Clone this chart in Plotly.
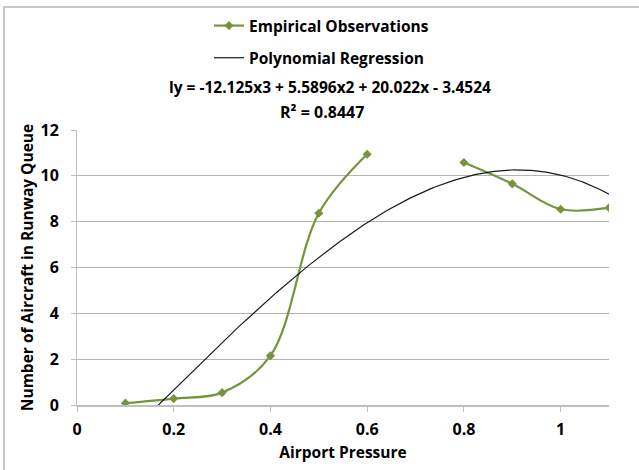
import numpy as np
import plotly.graph_objects as go

# Data
airport_pressure = [0.1, 0.2, 0.3, 0.4, 0.5, 0.6, 0.7, 0.8, 0.9, 1.0, 1.1]
queue_observed = [0.08, 0.28, 0.54, 2.15, 8.37, 10.94, None, 10.58, 9.65, 8.54, 8.61]

# Polynomial trendline coefficients (as printed on the chart)
poly_coeffs = [-12.125, 5.5896, 20.022, -3.4524]
equation_text = "ly = -12.125x3 + 5.5896x2 + 20.022x - 3.4524"
r2_text = "R² = 0.8447"

x_ticks = [0, 0.2, 0.4, 0.6, 0.8, 1]
x_tick_labels = ["0", "0.2", "0.4", "0.6", "0.8", "1"]
y_ticks = [0, 2, 4, 6, 8, 10, 12]

trend_x = np.linspace(min(airport_pressure), max(airport_pressure), 300)
trend_y = np.polyval(poly_coeffs, trend_x)

FONT = "Open Sans"
GREEN = "#77933C"

fig = go.Figure()
fig.add_trace(go.Scatter(
    x=airport_pressure, y=queue_observed, mode="lines+markers",
    name="<b>Empirical Observations</b>", legendgroup="a",
    line=dict(color=GREEN, width=2.2, shape="spline", smoothing=1),
    marker=dict(symbol="diamond", size=7, color=GREEN),
    connectgaps=False,
))
fig.add_trace(go.Scatter(
    x=trend_x, y=trend_y, mode="lines",
    name="<b>Polynomial Regression</b>", legendgroup="b",
    line=dict(color="#1a1a1a", width=1.2),
))

W, H = 639, 470
L, R, T, B = 77, 609, 130, 405

def px(xp):
    return (xp - L) / (R - L)

def py(yp):
    return (B - yp) / (B - T)

fig.update_layout(
    width=W, height=H,
    margin=dict(l=L, r=W - R, t=T, b=H - B, autoexpand=False),
    paper_bgcolor="white", plot_bgcolor="white",
    font=dict(family=FONT, size=15, color="black"),
    showlegend=True,
    legend=dict(
        x=px(209), y=py(9), xanchor="left", yanchor="top",
        font=dict(family=FONT, size=15.5, color="black"),
        tracegroupgap=9, itemwidth=30, bgcolor="rgba(0,0,0,0)",
    ),
    annotations=[
        dict(text="<b>" + equation_text + "</b>", x=px(330), y=py(87),
             xref="paper", yref="paper", showarrow=False,
             xanchor="center", yanchor="middle",
             font=dict(family=FONT, size=15.5, color="black")),
        dict(text="<b>" + r2_text + "</b>", x=px(322), y=py(112),
             xref="paper", yref="paper", showarrow=False,
             xanchor="center", yanchor="middle",
             font=dict(family=FONT, size=16, color="black")),
    ],
    shapes=[
        dict(type="rect", xref="paper", yref="paper",
             x0=px(4), x1=px(660), y0=py(7), y1=py(490),
             line=dict(color="#c8c8c8", width=2), layer="below"),
    ],
)

fig.update_xaxes(
    range=[0, 1.1], tickvals=x_ticks, ticktext=["<b>%s</b>" % t for t in x_tick_labels],
    showgrid=False, zeroline=False, showline=True, linecolor="#bfbfbf", linewidth=1.5,
    ticks="outside", ticklen=5, tickcolor="#bfbfbf", ticklabelstandoff=4,
    tickfont=dict(family=FONT, size=16, color="black"),
    title=dict(text="<b>Airport Pressure</b>", font=dict(family=FONT, size=15.5, color="black"), standoff=8),
)
fig.update_yaxes(
    range=[0, 12], tickvals=y_ticks, ticktext=["<b>%d</b>" % t for t in y_ticks],
    showgrid=True, gridcolor="#b3b3b3", gridwidth=1, zeroline=False,
    showline=True, linecolor="#bfbfbf", linewidth=1,
    ticks="outside", ticklen=5, tickcolor="#bfbfbf", ticklabelstandoff=9,
    tickfont=dict(family=FONT, size=16, color="black"),
    title=dict(text="<b>Number of Aircraft in Runway Queue</b>", font=dict(family=FONT, size=15.5, color="black"), standoff=3),
)

fig.write_html("out.html", config={"displayModeBar": False},
               post_script="document.body.style.margin='0';")
